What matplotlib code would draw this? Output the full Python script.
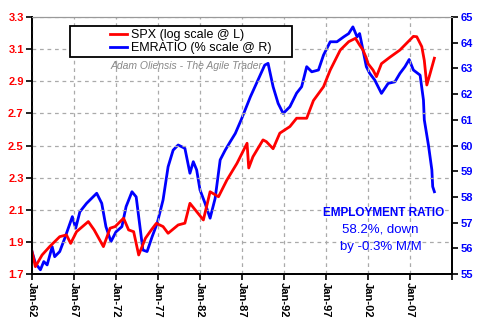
import matplotlib
matplotlib.use("Agg")
import matplotlib.pyplot as plt
from matplotlib.patches import Rectangle

plt.rcParams['font.family'] = ['Liberation Sans', 'DejaVu Sans']

# S&P 500, log10 (left axis)
spx_years = [1962.0, 1962.4, 1963.2, 1964.1, 1965.3, 1966.1, 1966.6, 1967.3, 1968.7, 1969.4,
             1970.5, 1971.3, 1971.9, 1972.9, 1973.5, 1974.1, 1974.7, 1975.5, 1976.2, 1976.8,
             1977.6, 1978.2, 1979.4, 1980.2, 1980.8, 1981.6, 1982.4, 1983.2, 1984.2, 1985.2,
             1986.4, 1987.6, 1987.8, 1988.3, 1989.5, 1989.9, 1990.7, 1991.5, 1992.7, 1993.5,
             1994.7, 1995.5, 1996.7, 1997.5, 1998.7, 1999.7, 2000.5, 2001.0, 2001.4, 2001.8,
             2002.0, 2002.6, 2003.0, 2003.6, 2004.6, 2005.8, 2007.4, 2007.8, 2008.4, 2008.7,
             2009.0, 2009.4, 2009.9]
spx_log = [1.839, 1.745, 1.818, 1.870, 1.932, 1.943, 1.890, 1.963, 2.026, 1.974,
           1.870, 1.985, 1.995, 2.047, 1.974, 1.963, 1.818, 1.922, 1.974, 2.015,
           1.995, 1.953, 2.005, 2.016, 2.140, 2.088, 2.036, 2.212, 2.181, 2.285,
           2.389, 2.514, 2.360, 2.430, 2.535, 2.524, 2.480, 2.577, 2.618, 2.670,
           2.670, 2.780, 2.866, 2.970, 3.095, 3.147, 3.168, 3.126, 3.095, 3.045,
           3.010, 2.970, 2.929, 3.010, 3.050, 3.095, 3.180, 3.178, 3.116, 3.030,
           2.877, 2.950, 3.044]

# Employment-population ratio, % (right axis)
emp_years = [1962.0, 1962.4, 1963.0, 1963.4, 1963.8, 1964.4, 1964.7, 1965.3, 1965.9, 1966.8,
             1967.2, 1967.7, 1968.5, 1969.7, 1970.3, 1970.8, 1971.4, 1972.0, 1972.7, 1973.2,
             1973.9, 1974.4, 1974.9, 1975.2, 1975.7, 1976.3, 1976.9, 1977.6, 1978.2, 1978.8,
             1979.4, 1980.2, 1980.8, 1981.2, 1981.6, 1982.0, 1982.6, 1983.2, 1983.8, 1984.4,
             1985.0, 1985.6, 1986.2, 1986.9, 1988.0, 1988.9, 1989.7, 1990.1, 1990.7, 1991.3,
             1991.9, 1992.7, 1993.5, 1994.1, 1994.7, 1995.3, 1996.1, 1996.7, 1997.5, 1998.3,
             1999.1, 1999.7, 2000.2, 2000.7, 2001.0, 2001.4, 2001.8, 2002.2, 2002.8, 2003.4,
             2003.6, 2004.4, 2005.2, 2005.8, 2006.4, 2006.9, 2007.4, 2008.2, 2008.6, 2008.7,
             2009.2, 2009.6, 2009.7, 2009.9]
emp_ratio = [55.87, 55.42, 55.16, 55.48, 55.35, 56.06, 55.67, 55.87, 56.39, 57.23,
             56.78, 57.42, 57.75, 58.14, 57.75, 56.84, 56.26, 56.64, 56.84, 57.62,
             58.20, 58.00, 56.71, 55.93, 55.87, 56.45, 56.97, 57.88, 59.17, 59.82,
             60.02, 59.89, 58.92, 59.37, 59.05, 58.27, 57.75, 57.17, 57.94, 59.44,
             59.82, 60.15, 60.47, 61.00, 61.90, 62.55, 63.13, 63.20, 62.29, 61.64,
             61.25, 61.51, 62.04, 62.29, 63.07, 62.87, 62.94, 63.52, 64.04, 64.04,
             64.23, 64.36, 64.62, 64.23, 64.36, 63.72, 63.07, 62.81, 62.55, 62.16,
             62.03, 62.42, 62.48, 62.81, 63.07, 63.35, 62.94, 62.74, 61.77, 61.00,
             60.00, 59.05, 58.40, 58.20]

left_ticks = [1.7, 1.9, 2.1, 2.3, 2.5, 2.7, 2.9, 3.1, 3.3]
right_ticks = [55, 56, 57, 58, 59, 60, 61, 62, 63, 64, 65]
x_ticks = [1962, 1967, 1972, 1977, 1982, 1987, 1992, 1997, 2002, 2007, 2012]
x_labels = ['Jan-62', 'Jan-67', 'Jan-72', 'Jan-77', 'Jan-82', 'Jan-87',
            'Jan-92', 'Jan-97', 'Jan-02', 'Jan-07', '']

fig = plt.figure(figsize=(4.85, 3.23), dpi=100)
ax = fig.add_axes([0.066, 0.152, 0.866, 0.795])
ax2 = ax.twinx()

ax.set_xlim(1962, 2012)
ax.set_ylim(1.7, 3.3)
ax2.set_ylim(55, 65)

# blue on the right axis, red on the left; red drawn on top
l2, = ax2.plot(emp_years, emp_ratio, color='#0000ff', lw=2.0)
l1, = ax.plot(spx_years, spx_log, color='#ff0000', lw=2.0)
ax.set_zorder(ax2.get_zorder() + 1)
ax.patch.set_visible(False)

ax.set_yticks(left_ticks)
ax.set_yticklabels(['%.1f' % v for v in left_ticks], color='red',
                   fontweight='bold', fontsize=8)
ax2.set_yticks(right_ticks)
ax2.set_yticklabels([str(v) for v in right_ticks], color='#0000ff',
                    fontweight='bold', fontsize=8)
ax.set_xticks(x_ticks)
ax.set_xticklabels(x_labels, rotation=270, fontweight='bold', fontsize=8)

ax.grid(True, color='#aaaaaa', ls=(0, (3, 3)), lw=0.9)
for a in (ax, ax2):
    a.tick_params(length=4, width=1.2, pad=2)
    a.spines['top'].set_color('#999999')
    for s in ('left', 'right', 'bottom'):
        a.spines[s].set_linewidth(1.3)

# legend box drawn by hand (wide padding like the original)
ax.add_patch(Rectangle((0.0905, 0.844), 0.5286, 0.121, transform=ax.transAxes,
                       facecolor='white', edgecolor='black', lw=1.3, zorder=5))
leg = ax.legend([l1, l2], ['SPX (log scale @ L)', 'EMRATIO (% scale @ R)'],
                loc='center left', bbox_to_anchor=(0.185, 0.905), fontsize=9,
                frameon=False, handlelength=1.4, handletextpad=0.3, borderpad=0,
                borderaxespad=0, labelspacing=0.1)
leg.set_zorder(6)

ax.text(0.367, 0.81, 'Adam Oliensis - The Agile Trader', transform=ax.transAxes,
        fontsize=7.5, color='#888888', style='italic', ha='center', va='center')

ax.text(0.838, 0.238, 'EMPLOYMENT RATIO', transform=ax.transAxes, fontsize=8.5,
        color='#0000ff', fontweight='bold', ha='center', va='center')
ax.text(0.83, 0.172, '58.2%, down', transform=ax.transAxes, fontsize=9.5,
        color='#0000ff', ha='center', va='center')
ax.text(0.83, 0.106, 'by -0.3% M/M', transform=ax.transAxes, fontsize=9.5,
        color='#0000ff', ha='center', va='center')

fig.savefig('out.png', dpi=100)
